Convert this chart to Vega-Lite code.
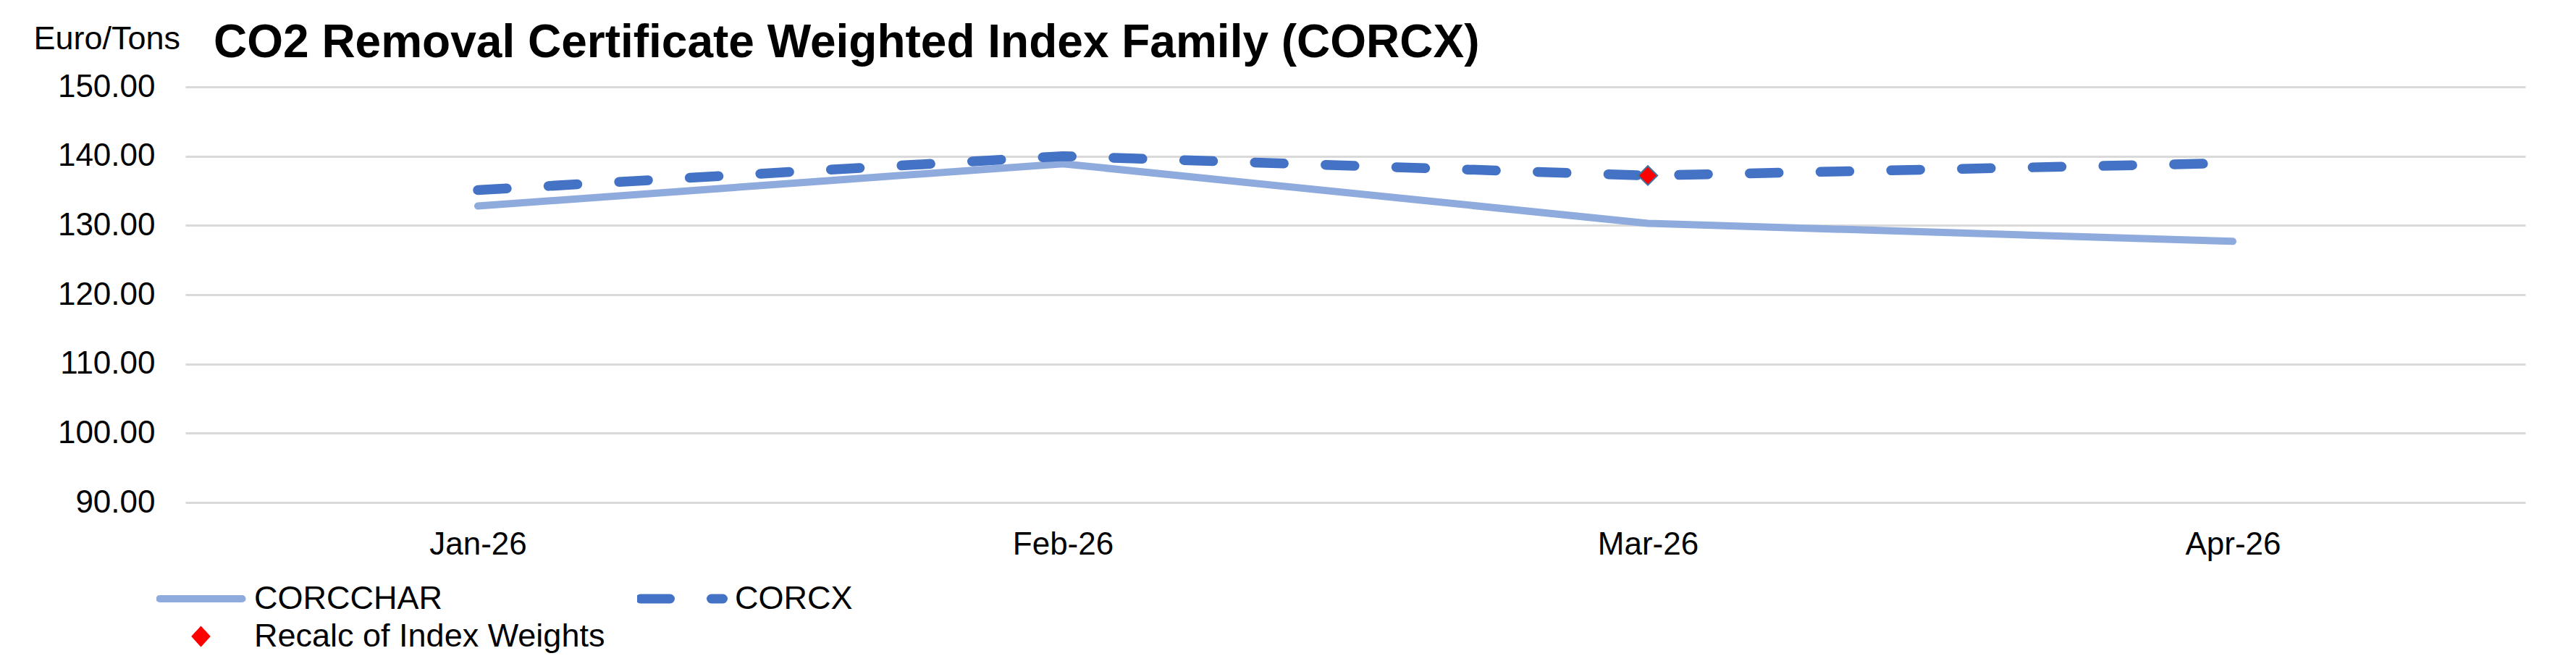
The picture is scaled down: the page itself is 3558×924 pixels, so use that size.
{
  "$schema": "https://vega.github.io/schema/vega-lite/v6.json",
  "width": 3232,
  "height": 574,
  "autosize": {"type": "none"},
  "padding": {"left": 256, "top": 120, "right": 70, "bottom": 230},
  "background": "white",
  "config": {
    "font": "Liberation Sans",
    "view": {"stroke": null},
    "axis": {"labelColor": "#000000", "titleColor": "#000000"}
  },
  "title": {
    "text": "CO2 Removal Certificate Weighted Index Family (CORCX)",
    "anchor": "start",
    "frame": "group",
    "fontSize": 64,
    "fontWeight": "bold",
    "color": "#000000",
    "baseline": "alphabetic",
    "dx": 39,
    "dy": 112,
    "offset": 0
  },
  "data": {
    "values": [
      {"month": "Jan-26", "series": "CORCCHAR", "value": 132.8},
      {"month": "Feb-26", "series": "CORCCHAR", "value": 138.9},
      {"month": "Mar-26", "series": "CORCCHAR", "value": 130.3},
      {"month": "Apr-26", "series": "CORCCHAR", "value": 127.7},
      {"month": "Jan-26", "series": "CORCX", "value": 135.1},
      {"month": "Feb-26", "series": "CORCX", "value": 140.0},
      {"month": "Mar-26", "series": "CORCX", "value": 137.2},
      {"month": "Apr-26", "series": "CORCX", "value": 139.0},
      {"month": "Mar-26", "series": "Recalc of Index Weights", "value": 137.2}
    ]
  },
  "encoding": {
    "x": {
      "field": "month",
      "type": "ordinal",
      "sort": ["Jan-26", "Feb-26", "Mar-26", "Apr-26"],
      "scale": {"type": "point", "padding": 0.5},
      "axis": {
        "title": null,
        "labelAngle": 0,
        "domain": false,
        "ticks": false,
        "tickSize": 0,
        "grid": false,
        "labelFontSize": 44,
        "labelPadding": 36
      }
    },
    "y": {
      "field": "value",
      "type": "quantitative",
      "scale": {"domain": [90, 150], "nice": false, "zero": false},
      "axis": {
        "values": [90, 100, 110, 120, 130, 140, 150],
        "format": ".2f",
        "domain": false,
        "ticks": false,
        "tickSize": 0,
        "grid": true,
        "gridColor": "#D9D9D9",
        "gridWidth": 3,
        "labelFontSize": 44,
        "labelPadding": 42,
        "title": "Euro/Tons",
        "titleAngle": 0,
        "titleAlign": "left",
        "titleBaseline": "alphabetic",
        "titleFontWeight": "normal",
        "titleFontSize": 45,
        "titleX": -210,
        "titleY": -53
      }
    }
  },
  "layer": [
    {
      "transform": [{"filter": "datum.series === 'CORCCHAR'"}],
      "mark": {"type": "line", "strokeWidth": 10, "strokeCap": "round", "strokeJoin": "miter"},
      "encoding": {
        "color": {
          "field": "series",
          "type": "nominal",
          "scale": {
            "domain": ["CORCCHAR", "CORCX", "Recalc of Index Weights"],
            "range": ["#8FAADC", "#4472C4", "#FF0000"]
          },
          "legend": {
            "orient": "none",
            "direction": "horizontal",
            "legendX": -40,
            "legendY": 681,
            "title": null,
            "columns": 2,
            "columnPadding": 44,
            "rowPadding": 0,
            "clipHeight": 52,
            "symbolSize": 12996,
            "symbolStrokeWidth": 10,
            "symbolOffset": 39,
            "labelOffset": 51,
            "labelFontSize": 45,
            "labelColor": "#000000",
            "labelLimit": 1000,
            "padding": 0,
            "encode": {
              "symbols": {
                "update": {
                  "size": {"value": 12996},
                  "shape": {"signal": "datum.value === 'Recalc of Index Weights' ? 'M0,-0.23L0.21,0L0,0.23L-0.21,0Z' : 'stroke'"},
                  "stroke": {"signal": "datum.value === 'CORCCHAR' ? '#8FAADC' : (datum.value === 'CORCX' ? '#4472C4' : '#41719C')"},
                  "fill": {"signal": "datum.value === 'Recalc of Index Weights' ? '#FF0000' : 'transparent'"},
                  "strokeWidth": {"signal": "datum.value === 'CORCCHAR' ? 10 : (datum.value === 'CORCX' ? 13 : 2)"},
                  "strokeDash": {"signal": "datum.value === 'CORCX' ? [41, 57] : [1, 0]"},
                  "strokeCap": {"signal": "datum.value === 'Recalc of Index Weights' ? 'butt' : 'round'"},
                  "opacity": {"value": 1}
                }
              }
            }
          }
        }
      }
    },
    {
      "transform": [{"filter": "datum.series === 'CORCX'"}],
      "mark": {"type": "line", "strokeWidth": 13.5, "strokeCap": "round", "strokeDash": [40, 57.7]},
      "encoding": {
        "color": {"field": "series", "type": "nominal"}
      }
    },
    {
      "transform": [{"filter": "datum.series === 'Recalc of Index Weights'"}],
      "mark": {"type": "point", "shape": "diamond", "filled": true, "fill": "#FF0000", "stroke": "#41719C", "strokeWidth": 2, "size": 700, "opacity": 1},
      "encoding": {}
    }
  ]
}
